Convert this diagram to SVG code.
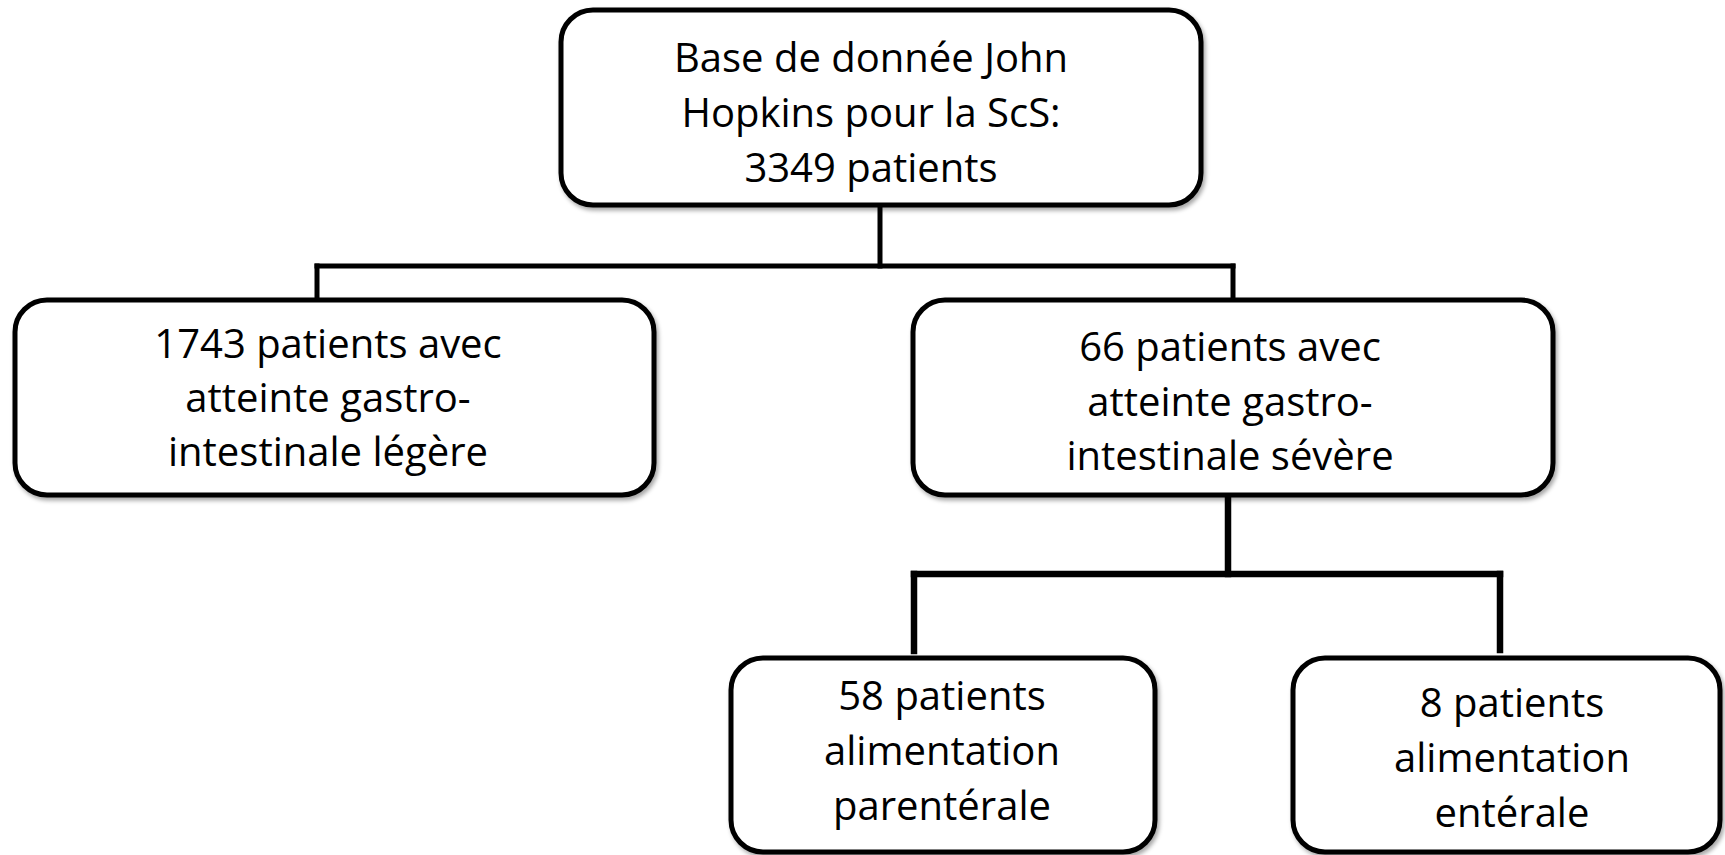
<svg xmlns="http://www.w3.org/2000/svg" width="1725" height="855" viewBox="0 0 1725 855">
  <defs>
    <filter id="shadow" x="-5%" y="-5%" width="110%" height="115%">
      <feDropShadow dx="2" dy="3" stdDeviation="2" flood-color="#000" flood-opacity="0.35"/>
    </filter>
    <style>
      .box { fill: #fff; stroke: #000; stroke-width: 5; filter: url(#shadow); }
      .conn { fill: none; stroke: #000; stroke-width: 5; stroke-linecap: square; }
      .conn2 { fill: none; stroke: #000; stroke-width: 6.5; stroke-linecap: square; }
      .lbl { font-family: "Open Sans", "Noto Sans", "Liberation Sans", sans-serif; font-size: 40px; fill: #000; text-anchor: middle; }
    </style>
  </defs>
  <rect width="1725" height="855" fill="#fff"/>

  <g id="connectors">
    <line class="conn" x1="880" y1="207" x2="880" y2="266"/>
    <line class="conn" x1="317" y1="266" x2="1233" y2="266"/>
    <line class="conn" x1="317" y1="266" x2="317" y2="297"/>
    <line class="conn" x1="1233" y1="266" x2="1233" y2="297"/>
    <line class="conn2" x1="1228" y1="497" x2="1228" y2="574"/>
    <line class="conn2" x1="914" y1="574" x2="1500" y2="574"/>
    <line class="conn2" x1="914" y1="574" x2="914" y2="651"/>
    <line class="conn2" x1="1500" y1="574" x2="1500" y2="650"/>
  </g>

  <g id="node-root">
    <rect class="box" x="561" y="10" width="640" height="195" rx="32" ry="32"/>
    <text class="lbl" x="871" y="72">Base de donnée John</text>
    <text class="lbl" x="871" y="127">Hopkins pour la ScS:</text>
    <text class="lbl" x="871" y="182">3349 patients</text>
  </g>

  <g id="node-legere">
    <rect class="box" x="15" y="300" width="639" height="195" rx="32" ry="32"/>
    <text class="lbl" x="328" y="358">1743 patients avec</text>
    <text class="lbl" x="328" y="412">atteinte gastro-</text>
    <text class="lbl" x="328" y="466">intestinale légère</text>
  </g>

  <g id="node-severe">
    <rect class="box" x="913" y="300" width="640" height="195" rx="32" ry="32"/>
    <text class="lbl" x="1230" y="361">66 patients avec</text>
    <text class="lbl" x="1230" y="416">atteinte gastro-</text>
    <text class="lbl" x="1230" y="470">intestinale sévère</text>
  </g>

  <g id="node-parenterale">
    <rect class="box" x="731" y="658" width="424" height="194" rx="32" ry="32"/>
    <text class="lbl" x="942" y="710">58 patients</text>
    <text class="lbl" x="942" y="765">alimentation</text>
    <text class="lbl" x="942" y="820">parentérale</text>
  </g>

  <g id="node-enterale">
    <rect class="box" x="1293" y="658" width="427" height="194" rx="32" ry="32"/>
    <text class="lbl" x="1512" y="717">8 patients</text>
    <text class="lbl" x="1512" y="772">alimentation</text>
    <text class="lbl" x="1512" y="827">entérale</text>
  </g>
</svg>
